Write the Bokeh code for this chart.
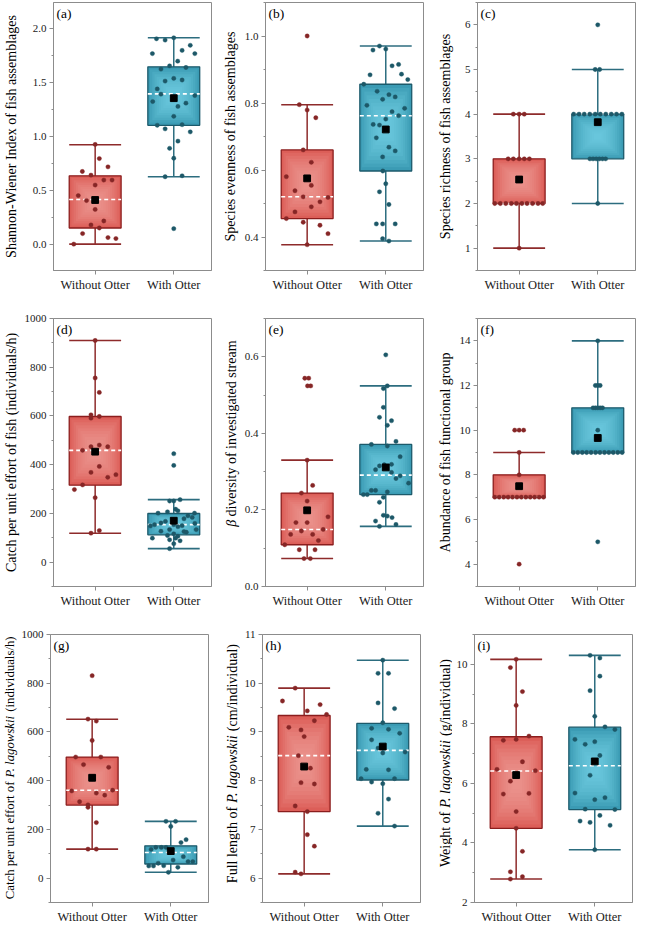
import math
from bokeh.plotting import figure
from bokeh.layouts import row, column
from bokeh.models import Range1d, FixedTicker, Label
from bokeh.embed import file_html
from bokeh.resources import INLINE

# ---------------- data ----------------
categories = ["Without Otter", "With Otter"]
cat_pos = [1, 2]

# (a) Shannon-Wiener Index
a_wo = [0.926, 0.795, 0.718, 0.675, 0.641, 0.595, 0.595, 0.549, 0.451, 0.405, 0.322, 0.215, 0.178, 0.150, 0.098, 0.061, 0.052, 0.0]
a_wo_jit = [0, 0.053, 0.163, -0.163, -0.053, 0.11, 0.215, 0.0, -0.215, -0.11, 0, 0.11, -0.053, 0.053, -0.16, 0.163, 0.264, -0.272]
a_w = [1.917, 1.908, 1.896, 1.847, 1.80, 1.77, 1.77, 1.70, 1.656, 1.641, 1.626, 1.54, 1.515, 1.525, 1.442, 1.393, 1.38, 1.325, 1.31, 1.279, 1.187, 1.104, 1.11, 1.071, 1.043, 0.957, 0.89, 0.798, 0.635, 0.626, 0.144]
a_w_jit = [0, -0.22, -0.11, 0.21, 0.106, -0.272, 0.268, 0.05, -0.053, 0.155, -0.163, 0, -0.11, 0.106, -0.21, -0.163, 0.268, -0.268, 0.155, 0.053, 0, -0.21, 0.106, -0.11, 0.21, 0.053, -0.053, 0, 0.106, -0.11, 0]
a_wo_stats = [0.0, 0.150, 0.414, 0.635, 0.923, 0.41]   # low, q1, median, q3, high, mean
a_w_stats = [0.626, 1.104, 1.396, 1.647, 1.917, 1.356]
a_yrange = (-0.245, 2.245)
a_yticks = [0.0, 0.5, 1.0, 1.5, 2.0]
a_yticklabels = ["0.0", "0.5", "1.0", "1.5", "2.0"]

# (b) Species evenness
b_wo = [1.0, 0.795, 0.779, 0.756, 0.660, 0.623, 0.580, 0.538, 0.554, 0.520, 0.518, 0.505, 0.490, 0.475, 0.455, 0.444, 0.435, 0.410, 0.377]
b_wo_jit = [0, -0.10, 0, 0.11, -0.05, 0.053, -0.265, -0.155, 0.053, -0.05, 0.265, 0.163, 0.053, -0.155, -0.265, -0.05, 0.163, 0.265, 0]
b_w = [0.970, 0.961, 0.958, 0.911, 0.915, 0.884, 0.886, 0.870, 0.856, 0.835, 0.825, 0.811, 0.818, 0.793, 0.784, 0.774, 0.752, 0.736, 0.734, 0.762, 0.696, 0.668, 0.657, 0.639, 0.597, 0.559, 0.535, 0.497, 0.439, 0.439, 0.439, 0.395, 0.388]
b_w_jit = [-0.08, 0, -0.163, 0.08, 0.163, -0.2, 0.2, 0.28, -0.28, -0.11, 0.04, -0.04, 0.12, -0.24, 0.24, 0.08, 0, -0.16, -0.08, 0.163, -0.12, 0.04, 0.12, -0.04, -0.037, 0, -0.08, 0.04, -0.12, -0.04, 0.12, -0.04, 0.04]
b_wo_stats = [0.377, 0.455, 0.520, 0.660, 0.795, 0.575]
b_w_stats = [0.388, 0.597, 0.762, 0.856, 0.970, 0.721]
b_yrange = (0.30, 1.10)
b_yticks = [0.4, 0.6, 0.8, 1.0]
b_yticklabels = ["0.4", "0.6", "0.8", "1.0"]

# (c) Species richness
c_wo = [4, 4, 4, 3, 3, 3, 3, 3, 2, 2, 2, 2, 2, 2, 2, 2, 2, 2, 1]
c_wo_jit = [-0.074, 0, 0.065, -0.14, -0.074, 0, 0.065, 0.13, -0.31, -0.24, -0.17, -0.10, -0.035, 0.035, 0.10, 0.17, 0.24, 0.30, 0]
c_w = [6, 5, 5, 4, 4, 4, 4, 4, 4, 4, 4, 4, 4, 3, 3, 3, 3, 3, 3, 2]
c_w_jit = [0, -0.033, 0.024, -0.307, -0.238, -0.172, -0.102, -0.033, 0.033, 0.102, 0.172, 0.238, 0.307, -0.10, -0.06, -0.02, 0.02, 0.06, 0.10, 0]
c_wo_stats = [1, 2, 2, 3, 4, 2.537]
c_w_stats = [2, 3, 4, 4, 5, 3.82]
c_yrange = (0.5, 6.5)
c_yticks = [1, 2, 3, 4, 5, 6]
c_yticklabels = ["1", "2", "3", "4", "5", "6"]

# (d) CPUE of fish
d_wo = [909.6, 755.7, 696.4, 604.6, 591, 597.8, 458.8, 473.7, 480.4, 473.7, 392.7, 368.4, 348.2, 359, 317, 298, 264.5, 129.6, 118.8]
d_wo_jit = [0, 0, 0.053, -0.053, -0.053, 0.053, -0.16, -0.053, 0.053, 0.16, 0.053, -0.053, 0.16, 0.264, -0.16, -0.264, 0, 0.053, -0.053]
d_w = [445, 396.8, 256.4, 251, 251, 217, 210.5, 206.5, 201, 201, 190, 183.5, 178, 167.3, 160.6, 159, 153.8, 153.8, 149.8, 148.4, 145.7, 133.6, 133.6, 126.9, 125.5, 122.8, 116, 109.3, 106.6, 98.5, 98.5, 91.8, 87.7, 75.6, 55.3]
d_w_jit = [0, 0, 0.08, -0.053, 0, 0.024, 0.053, -0.08, -0.2, 0.264, 0.18, 0.235, 0.13, -0.106, -0.163, 0.268, -0.244, 0, 0.106, -0.297, 0.053, 0.285, -0.053, -0.163, 0.13, 0.16, 0, -0.08, 0.053, -0.272, 0.024, -0.053, 0.08, 0, -0.053]
d_wo_stats = [118.8, 315.8, 458.8, 597.8, 909.6, 453.4]
d_w_stats = [55.3, 112, 153.8, 199.7, 256.4, 170]
d_yrange = (-100, 1000)
d_yticks = [0, 200, 400, 600, 800, 1000]
d_yticklabels = ["0", "200", "400", "600", "800", "1000"]

# (e) beta diversity
e_wo = [0.544, 0.544, 0.524, 0.524, 0.330, 0.264, 0.244, 0.223, 0.182, 0.167, 0.167, 0.149, 0.145, 0.136, 0.136, 0.120, 0.109, 0.096, 0.096, 0.073, 0.073]
e_wo_jit = [-0.03, 0.02, 0.005, 0.045, 0, 0.07, -0.073, 0, 0.265, -0.143, 0, 0.204, -0.073, 0.07, -0.21, 0.143, -0.285, -0.10, 0.10, -0.04, 0.04]
e_w = [0.605, 0.524, 0.517, 0.468, 0.442, 0.433, 0.421, 0.379, 0.371, 0.367, 0.339, 0.318, 0.319, 0.315, 0.305, 0.298, 0.289, 0.282, 0.270, 0.247, 0.251, 0.251, 0.240, 0.240, 0.233, 0.220, 0.186, 0.184, 0.180, 0.171, 0.162, 0.157]
e_w_jit = [0, 0.02, -0.03, -0.03, -0.08, 0.073, 0.02, 0.13, -0.183, 0.02, 0.183, -0.02, 0.073, -0.08, -0.13, 0.073, 0.183, 0.13, 0.29, 0.02, -0.183, -0.13, -0.285, -0.236, -0.03, -0.08, -0.03, 0.02, 0.08, -0.13, 0.13, -0.08]
e_wo_stats = [0.073, 0.109, 0.149, 0.244, 0.330, 0.199]
e_w_stats = [0.157, 0.240, 0.291, 0.371, 0.524, 0.311]
e_yrange = (0.0, 0.70)
e_yticks = [0.0, 0.2, 0.4, 0.6]
e_yticklabels = ["0.0", "0.2", "0.4", "0.6"]

# (f) Abundance of fish functional group
f_wo = [10, 10, 10, 9, 8, 7, 7, 7, 7, 7, 7, 7, 7, 7, 7, 7, 7, 4]
f_wo_jit = [-0.057, 0, 0.057, 0, 0, -0.31, -0.254, -0.197, -0.141, -0.085, -0.028, 0.028, 0.085, 0.141, 0.197, 0.254, 0.31, 0]
f_w = [14, 12, 12, 12, 11, 11, 11, 11, 11, 10, 9, 9, 9, 9, 9, 9, 9, 9, 9, 9, 9, 9, 5]
f_w_jit = [0, -0.03, 0, 0.03, -0.06, -0.03, 0, 0.03, 0.06, 0, -0.31, -0.254, -0.197, -0.141, -0.085, -0.028, 0.028, 0.085, 0.141, 0.197, 0.254, 0.31, 0]
f_wo_stats = [7, 7, 7, 8, 9, 7.49]
f_w_stats = [9, 9, 9, 11, 14, 9.65]
f_yrange = (3, 15)
f_yticks = [4, 6, 8, 10, 12, 14]
f_yticklabels = ["4", "6", "8", "10", "12", "14"]

# (g) CPUE of P. lagowskii
g_wo = [831, 652.7, 644.6, 565, 497, 497, 466, 455, 408, 358, 361, 349, 340.5, 313.5, 301, 290.5, 228, 119, 119]
g_wo_jit = [0, -0.053, 0.053, 0, -0.21, 0.11, -0.11, 0.21, 0, -0.26, 0.26, 0.053, 0.16, -0.16, -0.053, -0.053, 0.053, -0.053, 0.053]
g_w = [233, 233, 212, 158, 146, 126, 126, 126, 118, 115, 88, 74, 68, 68, 61, 50, 50, 51, 44.6, 24]
g_w_jit = [-0.061, 0.061, 0, 0.195, 0.13, -0.19, -0.12, -0.06, -0.25, 0, 0.16, 0.03, 0.22, 0.28, -0.16, -0.28, -0.22, -0.09, 0.09, -0.03]
g_wo_stats = [119, 300, 361, 497, 652, 412]
g_w_stats = [24, 58, 105, 132.5, 233, 111]
g_yrange = (-100, 1000)
g_yticks = [0, 200, 400, 600, 800, 1000]
g_yticklabels = ["0", "200", "400", "600", "800", "1000"]

# (h) Full length of P. lagowskii
h_wo = [9.899, 9.635, 9.561, 9.432, 9.358, 9.230, 9.095, 9.041, 8.905, 8.514, 8.257, 7.959, 7.932, 7.480, 7.365, 6.892, 6.655, 6.122, 6.088]
h_wo_jit = [-0.114, -0.276, 0.203, 0.04, 0.285, 0.13, -0.195, -0.04, 0, -0.073, 0.08, -0.04, 0.13, -0.114, 0.04, 0.04, 0.13, -0.114, -0.04]
h_w = [10.473, 10.203, 10.203, 9.595, 9.480, 9.189, 9.074, 9.054, 8.973, 8.838, 8.669, 8.568, 8.588, 8.230, 8.223, 8.041, 8.041, 7.973, 7.939, 7.622, 7.331, 7.068]
h_w_jit = [0, -0.06, 0.073, -0.06, 0.15, 0, -0.142, 0.073, 0.215, -0.142, -0.06, 0, 0.285, -0.21, 0.073, -0.276, 0.15, -0.142, 0, 0.073, -0.06, 0.15]
h_wo_stats = [6.088, 7.365, 8.514, 9.338, 9.899, 8.29]
h_w_stats = [7.068, 8.014, 8.622, 9.176, 10.473, 8.70]
h_yrange = (5.5, 11)
h_yticks = [6, 7, 8, 9, 10, 11]
h_yticklabels = ["6", "7", "8", "9", "10", "11"]

# (i) Weight of P. lagowskii
i_wo = [10.166, 9.889, 9.082, 8.617, 7.445, 7.478, 7.588, 6.726, 6.471, 6.427, 6.073, 5.642, 5.664, 5.055, 4.491, 3.717, 3.031, 2.865, 2.788]
i_wo_jit = [0, -0.073, 0.08, 0, -0.163, 0, 0.163, 0.08, -0.244, 0.244, -0.073, -0.163, 0.163, 0, 0, 0.08, -0.073, 0.08, -0.073]
i_w = [10.299, 10.210, 9.602, 9.115, 8.252, 7.898, 7.810, 7.478, 7.312, 7.400, 6.936, 6.272, 5.675, 5.520, 5.454, 5.133, 5.122, 4.735, 4.690, 4.923, 4.591, 3.772]
i_w_jit = [-0.06, 0.065, 0.065, -0.06, 0, 0.13, 0.256, -0.252, -0.122, 0, 0.065, -0.06, -0.252, 0.13, 0, -0.122, 0.256, -0.187, -0.06, 0.065, 0.195, 0]
i_wo_stats = [2.788, 4.491, 6.416, 7.566, 10.166, 6.28]
i_w_stats = [3.772, 5.122, 6.593, 7.887, 10.299, 6.737]
i_yrange = (2, 11)
i_yticks = [2, 4, 6, 8, 10]
i_yticklabels = ["2", "4", "6", "8", "10"]

# ---------------- styling ----------------
FONT = "Liberation Serif"
FW, FH = 158, 268
XR = (0.47, 2.48)
BW = 0.66
LABEL_PX = 14
FRAME = "#8c8c8c"
RED = dict(light="#f4a49e", base="#dc5e58", edge="#8b1d1d", whisk="#8e2b2b", pt="#862626")
BLUE = dict(light="#78d6ec", base="#3b9bb4", edge="#1c5a6b", whisk="#2c6d7f", pt="#1d5868")
N_GLOW = 10
LEFT = 50
RIGHTS = [4, 4, 2]
TOPS = [2, 7, 7]
BOTTOMS = [41, 41, 24]
WSCALE = 1.12      # rendered text runs wider than the nominal metrics
GAP = 3.5

TIMES_R = {' ': 250, '(': 333, ')': 333, '/': 278, '.': 250, 'C': 667, 'F': 556, 'P': 556, 'W': 944,
           'a': 444, 'b': 500, 'c': 444, 'd': 500, 'e': 444, 'f': 333, 'g': 500, 'h': 500, 'i': 278,
           'k': 500, 'l': 278, 'm': 778, 'n': 500, 'o': 500, 'p': 500, 'r': 333, 's': 389, 't': 278,
           'u': 500, 'v': 500, 'w': 722, 'y': 500}
TIMES_I = {' ': 250, '.': 250, 'P': 611, 'a': 500, 'g': 500, 'i': 278, 'k': 444, 'l': 278,
           'o': 500, 's': 389, 'w': 667, 'β': 560}


def text_w(s, italic, size):
    tbl = TIMES_I if italic else TIMES_R
    return sum(tbl.get(ch, 500) for ch in s) / 1000.0 * size * WSCALE


def draw_group(p, c, vals, jit, stats, pal):
    low, q1, med, q3, high, mean = stats
    hw = BW / 2
    p.segment(x0=[c], y0=[low], x1=[c], y1=[high], line_color=pal["whisk"], line_width=1.5)
    p.segment(x0=[c - hw, c - hw], y0=[low, high], x1=[c + hw, c + hw], y1=[low, high],
              line_color=pal["whisk"], line_width=1.6)
    p.quad(left=[c - hw], right=[c + hw], bottom=[q1], top=[q3], fill_color=pal["base"], line_color=None)
    mid, hh = (q1 + q3) / 2, (q3 - q1) / 2
    for k in range(1, N_GLOW + 1):
        f = 1 - 0.85 * k / N_GLOW
        p.quad(left=[c - hw * f], right=[c + hw * f], bottom=[mid - hh * f], top=[mid + hh * f],
               fill_color=pal["light"], fill_alpha=0.14, line_color=None)
    p.quad(left=[c - hw], right=[c + hw], bottom=[q1], top=[q3], fill_color=None,
           line_color=pal["edge"], line_width=1.3)
    p.segment(x0=[c - hw], y0=[med], x1=[c + hw], y1=[med], line_color="white",
              line_width=1.6, line_dash="4 3")
    p.scatter(x=[c + j for j in jit], y=vals, size=4.3, fill_color=pal["pt"],
              line_color=pal["pt"], line_width=0.4)
    p.scatter(x=[c], y=[mean], marker="square", size=6.8, fill_color="black", line_color="black")


def label_fig(parts, lw, row_i, cx, shift, size):
    """Narrow strip holding a y-axis title whose words mix upright and italic type.
    The italic part is centred on its own anchor; upright neighbours are aligned against it."""
    height = TOPS[row_i] + FH + BOTTOMS[row_i]
    lf = figure(width=lw, height=height, x_range=Range1d(0, lw), y_range=Range1d(0, height),
                output_backend="svg", toolbar_location=None, x_axis_type=None, y_axis_type=None,
                min_border_left=0, min_border_right=0, min_border_top=0, min_border_bottom=0,
                outline_line_color=None, background_fill_color="white", border_fill_color="white")
    m = [it for _, it in parts].index(True)
    widths = [text_w(t, it, size) for t, it in parts]
    before = widths[m - 1] + GAP if m > 0 else 0.0
    after = widths[m + 1] + GAP if m + 1 < len(parts) else 0.0
    total = before + widths[m] + after
    ymid = BOTTOMS[row_i] + FH / 2 - shift
    c = ymid - total / 2 + before + widths[m] / 2

    def put(text, y, align, italic):
        lf.add_layout(Label(x=cx, y=y, text=text, angle=math.pi / 2, text_align=align,
                            text_baseline="middle", text_font=FONT, text_font_size=f"{size}px",
                            text_font_style="italic" if italic else "normal", text_color="black"))

    put(parts[m][0], c, "center", True)
    if m > 0:
        put(parts[m - 1][0], c - widths[m] / 2 - GAP, "right", False)
    if m + 1 < len(parts):
        put(parts[m + 1][0], c + widths[m] / 2 + GAP, "left", False)
    return lf


def make_panel(letter, row_i, col, yr, yticks, ytl, wo, wo_j, wo_s, w, w_j, w_s,
               ylabel=None, standoff=5, parts=None, plot_left=None, label_cx=10, shift=0,
               label_size=LABEL_PX):
    left = LEFT if parts is None else plot_left
    p = figure(frame_width=FW, frame_height=FH, x_range=Range1d(*XR), y_range=Range1d(*yr),
               output_backend="svg", toolbar_location=None,
               min_border_left=left, min_border_right=RIGHTS[col], min_border_top=TOPS[row_i],
               min_border_bottom=BOTTOMS[row_i],
               background_fill_color="white", border_fill_color="white",
               outline_line_color=FRAME, outline_line_width=1)
    p.xgrid.visible = False
    p.ygrid.visible = False
    xa, ya = p.xaxis[0], p.yaxis[0]
    xa.ticker = FixedTicker(ticks=cat_pos, minor_ticks=[])
    xa.major_label_overrides = {pos: name for pos, name in zip(cat_pos, categories)}
    step = yticks[1] - yticks[0]
    minors = []
    k = yticks[0] - step / 2
    while k <= yr[1]:
        if k >= yr[0]:
            minors.append(round(k, 6))
        k += step
    ya.ticker = FixedTicker(ticks=yticks, minor_ticks=minors)
    ya.major_label_overrides = {t: s for t, s in zip(yticks, ytl)}
    for ax in (xa, ya):
        ax.axis_line_color = FRAME
        ax.major_tick_line_color = FRAME
        ax.minor_tick_line_color = FRAME
        ax.major_tick_in = 0
        ax.major_tick_out = 4
        ax.minor_tick_in = 0
        ax.minor_tick_out = 2
        ax.major_label_standoff = 3
        ax.major_label_text_font = FONT
        ax.major_label_text_color = "#1a1a1a"
    xa.major_label_text_font_size = "12.5px"
    ya.major_label_text_font_size = "11px"
    if ylabel is not None:
        ya.axis_label = ylabel
        ya.axis_label_standoff = standoff
        ya.axis_label_text_font = FONT
        ya.axis_label_text_font_size = f"{LABEL_PX}px"
        ya.axis_label_text_font_style = "normal"
        ya.axis_label_text_color = "black"
    draw_group(p, cat_pos[0], wo, wo_j, wo_s, RED)
    draw_group(p, cat_pos[1], w, w_j, w_s, BLUE)
    ppx = FW / (XR[1] - XR[0])
    ppy = FH / (yr[1] - yr[0])
    p.add_layout(Label(x=XR[0] + 3 / ppx, y=yr[1] - 3 / ppy, text=f"({letter})",
                       text_align="left", text_baseline="top", text_font=FONT,
                       text_font_size="13.5px", text_color="black"))
    if parts is None:
        return p
    lf = label_fig(parts, LEFT - plot_left, row_i, label_cx, shift, label_size)
    return row(lf, p, spacing=0)


pa = make_panel("a", 0, 0, a_yrange, a_yticks, a_yticklabels, a_wo, a_wo_jit, a_wo_stats, a_w, a_w_jit, a_w_stats,
                ylabel="Shannon-Wiener Index of fish assemblages", standoff=11)
pb = make_panel("b", 0, 1, b_yrange, b_yticks, b_yticklabels, b_wo, b_wo_jit, b_wo_stats, b_w, b_w_jit, b_w_stats,
                ylabel="Species evenness of fish assemblages", standoff=4)
pc = make_panel("c", 0, 2, c_yrange, c_yticks, c_yticklabels, c_wo, c_wo_jit, c_wo_stats, c_w, c_w_jit, c_w_stats,
                ylabel="Species richness of fish assemblages", standoff=9)
pd_ = make_panel("d", 1, 0, d_yrange, d_yticks, d_yticklabels, d_wo, d_wo_jit, d_wo_stats, d_w, d_w_jit, d_w_stats,
                 ylabel="Catch per unit effort of fish (individuals/h)", standoff=3)
pe = make_panel("e", 1, 1, e_yrange, e_yticks, e_yticklabels, e_wo, e_wo_jit, e_wo_stats, e_w, e_w_jit, e_w_stats,
                parts=[("β", True), ("diversity of investigated stream", False)], plot_left=25, label_cx=16)
pf = make_panel("f", 1, 2, f_yrange, f_yticks, f_yticklabels, f_wo, f_wo_jit, f_wo_stats, f_w, f_w_jit, f_w_stats,
                ylabel="Abundance of fish functional group", standoff=4)
pg = make_panel("g", 2, 0, g_yrange, g_yticks, g_yticklabels, g_wo, g_wo_jit, g_wo_stats, g_w, g_w_jit, g_w_stats,
                parts=[("Catch per unit effort of", False), ("P. lagowskii", True), ("(individuals/h)", False)],
                plot_left=32, label_cx=9, shift=8, label_size=12.8)
ph = make_panel("h", 2, 1, h_yrange, h_yticks, h_yticklabels, h_wo, h_wo_jit, h_wo_stats, h_w, h_w_jit, h_w_stats,
                parts=[("Full length of", False), ("P. lagowskii", True), ("(cm/individual)", False)],
                plot_left=22, label_cx=20, shift=3)
pi = make_panel("i", 2, 2, i_yrange, i_yticks, i_yticklabels, i_wo, i_wo_jit, i_wo_stats, i_w, i_w_jit, i_w_stats,
                parts=[("Weight of", False), ("P. lagowskii", True), ("(g/individual)", False)],
                plot_left=22, label_cx=21, shift=3)

layout = column(row(pa, pb, pc, spacing=0), row(pd_, pe, pf, spacing=0), row(pg, ph, pi, spacing=0), spacing=0)
open("out.html", "w").write(file_html(layout, INLINE))
